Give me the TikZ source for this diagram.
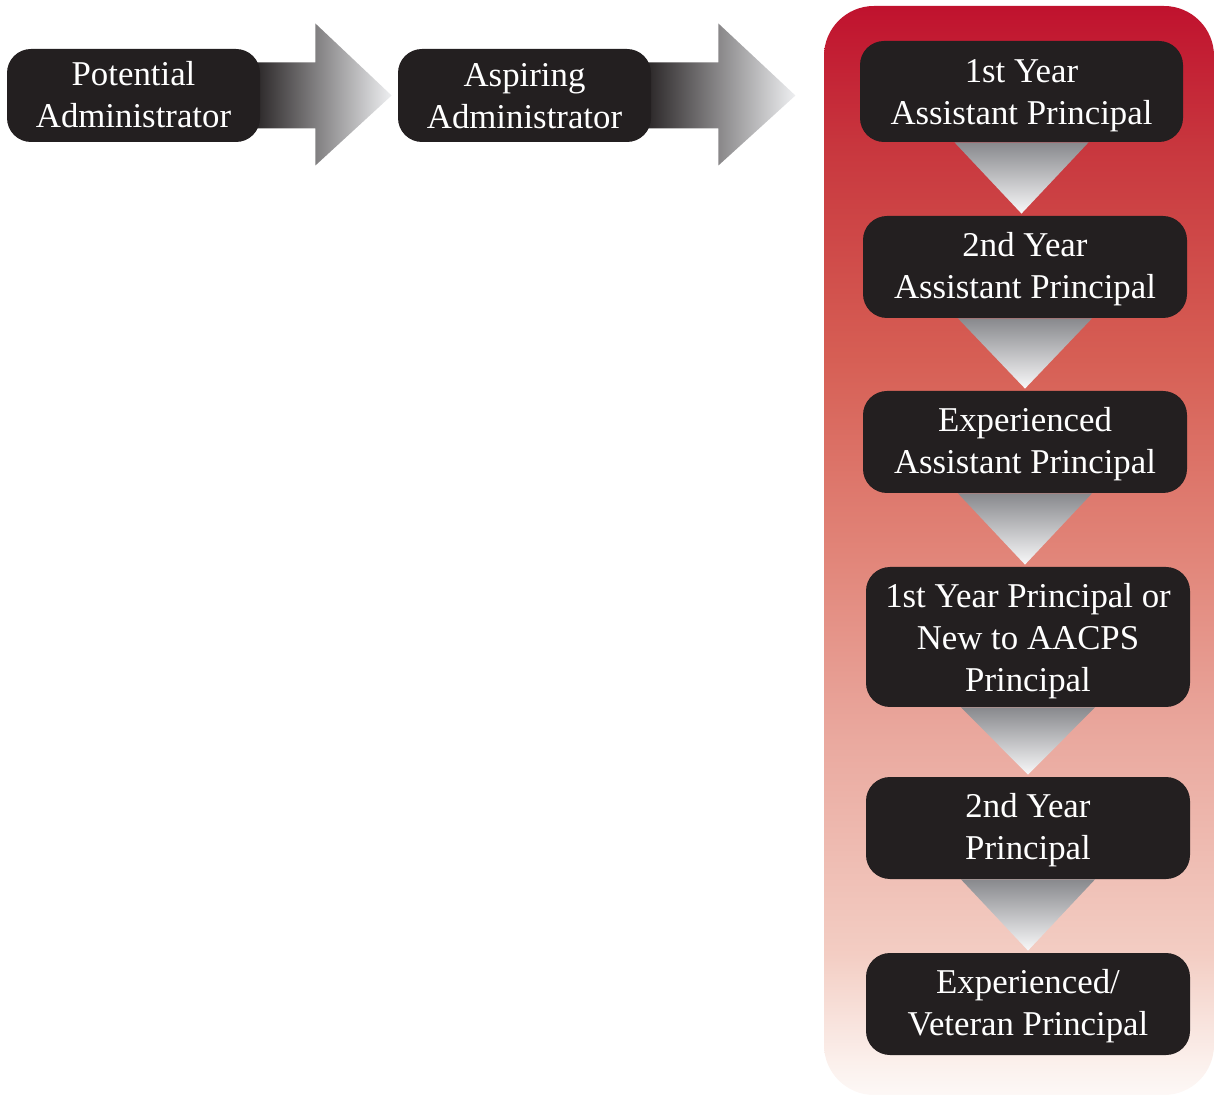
\documentclass[tikz,border=0pt]{standalone}
\usepackage{fontspec}
\setmainfont{Liberation Serif}
\usetikzlibrary{calc}
\definecolor{boxfill}{RGB}{35,31,32}
\definecolor{arrdark}{RGB}{35,31,32}
\definecolor{arrlight}{RGB}{238,239,241}
\definecolor{tritop}{RGB}{136,137,141}
\definecolor{tribot}{RGB}{248,248,249}
\definecolor{rA}{RGB}{253,248,246}
\definecolor{rB}{RGB}{251,240,236}
\definecolor{rC}{RGB}{243,205,195}
\definecolor{rD}{RGB}{234,170,160}
\definecolor{rE}{RGB}{225,132,120}
\definecolor{rF}{RGB}{214,94,84}
\definecolor{rG}{RGB}{200,55,62}
\definecolor{rH}{RGB}{192,18,46}
\pgfdeclareverticalshading{redfade}{100bp}{color(0bp)=(rA); color(25bp)=(rA); color(26.5bp)=(rB); color(31.5bp)=(rC); color(41bp)=(rD); color(50bp)=(rE); color(59bp)=(rF); color(68.5bp)=(rG); color(75bp)=(rH); color(100bp)=(rH)}
\pgfdeclarelayer{behind}
\pgfsetlayers{behind,main}
\tikzset{
  stagebox/.style={fill=boxfill, rounded corners=12pt, inner sep=0pt},
  stagetext/.style={text=white, align=center, inner sep=0pt,
    font=\fontsize{17.4}{21}\selectfont},
  sidearrow/.style={left color=arrdark, right color=arrlight, draw=none},
  downtri/.style={top color=tritop, bottom color=tribot, draw=none},
}
\begin{document}
\begin{tikzpicture}[x=0.5pt,y=-0.5pt]
\useasboundingbox (0,0) rectangle (1215,1095);
% background panel
\shade[shading=redfade, rounded corners=25pt] (824,6) rectangle (1214,1095);
% left boxes
\node[stagebox, minimum width=126.5pt, minimum height=46.5pt] (p1) at (133.5,95.5) {};
\node[stagebox, minimum width=126.5pt, minimum height=46.5pt] (p2) at (524.5,95.5) {};
\node[stagetext] (p1t) at ($(p1)+(0,-1)$) {Potential\\Administrator};
\node[stagetext] (p2t) at ($(p2)+(0,1)$) {Aspiring\\Administrator};
% column boxes
\node[stagebox, minimum width=161.5pt, minimum height=50.5pt] (a) at (1021.5,91.5) {};
\node[stagebox, minimum width=162pt, minimum height=51pt] (b) at (1025,267) {};
\node[stagebox, minimum width=162pt, minimum height=51pt] (c) at (1025,442) {};
\node[stagebox, minimum width=162pt, minimum height=70pt] (d) at (1028,637) {};
\node[stagebox, minimum width=162pt, minimum height=51pt] (e) at (1028,828) {};
\node[stagebox, minimum width=162pt, minimum height=51pt] (f) at (1028,1004) {};
\node[stagetext] (at) at ($(a)+(0,4)$) {1st Year\\Assistant Principal};
\node[stagetext] (bt) at ($(b)+(0,2)$) {2nd Year\\Assistant Principal};
\node[stagetext] (ct) at ($(c)+(0,2)$) {Experienced\\Assistant Principal};
\node[stagetext] (dt) at ($(d)+(0,4)$) {1st Year Principal or\\New to AACPS\\Principal};
\node[stagetext] (et) at ($(e)+(0,2)$) {2nd Year\\Principal};
\node[stagetext] (ft) at ($(f)+(0,2)$) {Experienced/\\Veteran Principal};
% horizontal arrows, behind the boxes
\begin{pgfonlayer}{behind}
\shade[sidearrow] ($(p1.east)+(-10,-33)$) -- ($(p1.east)+(55,-33)$) -- ($(p1.east)+(55,-72)$)
  -- ($(p2.west)+(-6,0)$) -- ($(p1.east)+(55,70)$) -- ($(p1.east)+(55,33)$) -- ($(p1.east)+(-10,33)$) -- cycle;
\shade[sidearrow] ($(p2.east)+(-10,-33)$) -- ($(p2.east)+(67,-33)$) -- ($(p2.east)+(67,-72)$)
  -- ($(p2.east)+(144,0)$) -- ($(p2.east)+(67,70)$) -- ($(p2.east)+(67,33)$) -- ($(p2.east)+(-10,33)$) -- cycle;
\end{pgfonlayer}
% down triangles
\foreach \u/\l in {a/b,b/c,c/d,d/e,e/f}{
  \shade[downtri] ($(\u.south)+(-67,0)$) -- ($(\u.south)+(67,0)$) -- ($(\u.south |- \l.north)+(0,-2)$) -- cycle;
}
\end{tikzpicture}
\end{document}
